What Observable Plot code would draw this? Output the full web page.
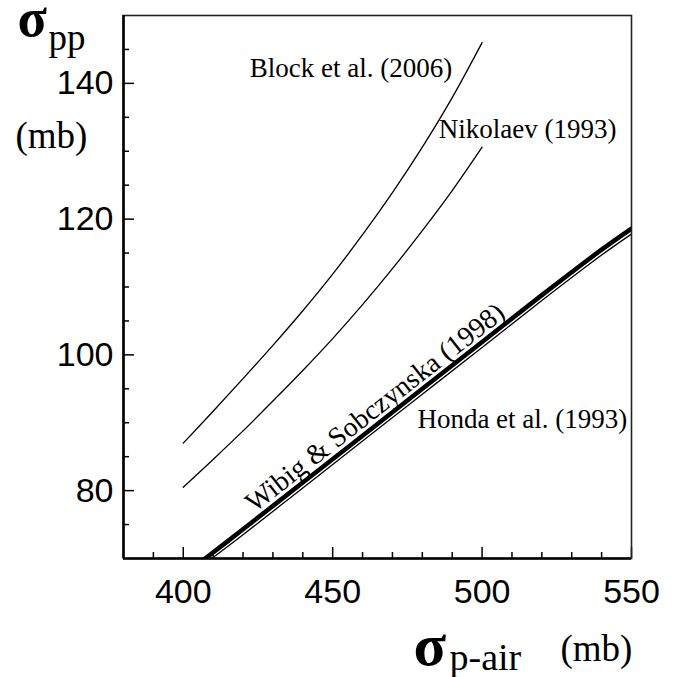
<!DOCTYPE html>
<html><head><meta charset="utf-8">
<script src="https://cdn.jsdelivr.net/npm/d3@7"></script>
<script src="https://cdn.jsdelivr.net/npm/@observablehq/plot@0.6"></script>
<style>html,body{margin:0;padding:0;background:#fff}</style>
</head><body><div id="chart"></div>
<script>
// ---- data ----
const blockX = [400, 410, 420, 430, 440, 450, 460, 470, 480, 490, 500];
const blockY = [87.0, 91.7, 96.5, 101.4, 106.5, 111.9, 117.7, 123.9, 130.6, 137.9, 146.0];
const nikolaevX = [400, 410, 420, 430, 440, 450, 460, 470, 480, 490, 500];
const nikolaevY = [80.5, 84.6, 88.8, 93.2, 97.7, 102.4, 107.4, 112.7, 118.3, 124.2, 130.6];
const wibigX = [405, 420, 440, 460, 480, 500, 520, 540, 550];
const wibigY = [69.2, 74.3, 81.2, 88.1, 95.0, 101.9, 108.8, 115.5, 118.6];
const hondaX = [405, 420, 440, 460, 480, 500, 520, 540, 550];
const hondaY = [68.5, 73.5, 80.4, 87.3, 94.2, 101.1, 108.0, 114.7, 117.8];

const xDomain = [380, 550];
const yDomain = [70, 150];
const xMajor = [400, 450, 500, 550];
const xMinor = [390, 410, 420, 430, 440, 460, 470, 480, 490, 510, 520, 530, 540];
const yMajor = [80, 100, 120, 140];
const yMinor = [75, 85, 90, 95, 105, 110, 115, 125, 130, 135, 145];

const labelBlock = "Block et al. (2006)";
const labelNikolaev = "Nikolaev (1993)";
const labelWibig = "Wibig & Sobczynska (1998)";
const labelHonda = "Honda et al. (1993)";

// ---- layout ----
const W = 688, H = 677, mL = 123, mR = 57, mT = 15, mB = 119;
const plotW = W - mL - mR, plotH = H - mT - mB;
const serif = "'Liberation Serif','Times New Roman',Times,serif";
const sans = "'Liberation Sans',Arial,Helvetica,sans-serif";

const toRows = (xs, ys) => xs.map((x, i) => ({x, y: ys[i]}));
const wibigAt = (x) => {
  for (let i = 1; i < wibigX.length; i++) if (x <= wibigX[i]) {
    const t = (x - wibigX[i-1]) / (wibigX[i] - wibigX[i-1]);
    return wibigY[i-1] + t * (wibigY[i] - wibigY[i-1]);
  }
  return wibigY[wibigY.length - 1];
};

const chart = Plot.plot({
  width: W, height: H,
  marginLeft: mL, marginRight: mR, marginTop: mT, marginBottom: mB,
  x: {domain: xDomain},
  y: {domain: yDomain},
  style: {background: "#fff", color: "#000", fontFamily: sans, overflow: "visible"},
  marks: [
    Plot.line(toRows(blockX, blockY), {x: "x", y: "y", stroke: "#000", strokeWidth: 1.3, curve: "catmull-rom", clip: true}),
    Plot.line(toRows(nikolaevX, nikolaevY), {x: "x", y: "y", stroke: "#000", strokeWidth: 1.3, curve: "catmull-rom", clip: true}),
    Plot.line(toRows(hondaX, hondaY), {x: "x", y: "y", stroke: "#000", strokeWidth: 1.3, curve: "catmull-rom", clip: true}),
    Plot.line(toRows(wibigX, wibigY), {x: "x", y: "y", stroke: "#000", strokeWidth: 4.5, curve: "catmull-rom", clip: true}),
    Plot.ruleX(xMajor, {stroke: "#000", strokeWidth: 1.5, insetTop: plotH - 11}),
    Plot.ruleX(xMinor, {stroke: "#000", strokeWidth: 1.5, insetTop: plotH - 6}),
    Plot.ruleY(yMajor, {stroke: "#000", strokeWidth: 1.5, insetRight: plotW - 11}),
    Plot.ruleY(yMinor, {stroke: "#000", strokeWidth: 1.5, insetRight: plotW - 6}),
    Plot.frame({stroke: "#222", strokeWidth: 1.6}),
    Plot.ruleX([xDomain[0]], {stroke: "#000", strokeWidth: 2.6}),
    Plot.ruleY([yDomain[0]], {stroke: "#000", strokeWidth: 2.6}),
    Plot.axisX(xMajor, {tickSize: 0, tickPadding: 20, fontSize: 34, fontFamily: sans, label: null}),
    Plot.axisY(yMajor, {tickSize: 0, tickPadding: 10, fontSize: 34, fontFamily: sans, label: null}),
    // curve labels
    Plot.text([labelBlock], {x: () => 490, y: () => 140.9, text: d => d, textAnchor: "end", lineAnchor: "bottom", fontSize: 27, fontFamily: serif, fill: "#000"}),
    Plot.text([labelNikolaev], {x: () => 485.5, y: () => 131.9, text: d => d, textAnchor: "start", lineAnchor: "bottom", fontSize: 27, fontFamily: serif, fill: "#000"}),
    Plot.text([labelHonda], {x: () => 548.6, y: () => 89.2, text: d => d, textAnchor: "end", lineAnchor: "bottom", fontSize: 27, fontFamily: serif, fill: "#000"}),
    Plot.text([labelWibig], {x: () => 466, y: () => wibigAt(466), text: d => d, textAnchor: "middle", lineAnchor: "bottom", rotate: -38, dy: -7, fontSize: 28, fontFamily: serif, fill: "#000"}),
    // y-axis title
    Plot.text(["σ"], {frameAnchor: "top-left", dx: -106, dy: 20, textAnchor: "start", lineAnchor: "bottom", fontSize: 54, fontWeight: "bold", fontFamily: serif, fill: "#000"}),
    Plot.text(["pp"], {frameAnchor: "top-left", dx: -75, dy: 34, textAnchor: "start", lineAnchor: "bottom", fontSize: 37, fontFamily: serif, fill: "#000"}),
    Plot.text(["(mb)"], {frameAnchor: "top-left", dx: -108, dy: 132, textAnchor: "start", lineAnchor: "bottom", fontSize: 37, fontFamily: serif, fill: "#000"}),
    // x-axis title
    Plot.text(["σ"], {frameAnchor: "bottom-left", dx: 290, dy: 106, textAnchor: "start", lineAnchor: "bottom", fontSize: 60, fontWeight: "bold", fontFamily: serif, fill: "#000"}),
    Plot.text(["p-air"], {frameAnchor: "bottom-left", dx: 326, dy: 111, textAnchor: "start", lineAnchor: "bottom", fontSize: 38, fontFamily: serif, fill: "#000"}),
    Plot.text(["(mb)"], {frameAnchor: "bottom-left", dx: 437, dy: 102, textAnchor: "start", lineAnchor: "bottom", fontSize: 37, fontFamily: serif, fill: "#000"})
  ]
});
document.getElementById("chart").appendChild(chart);
</script>
</body></html>
